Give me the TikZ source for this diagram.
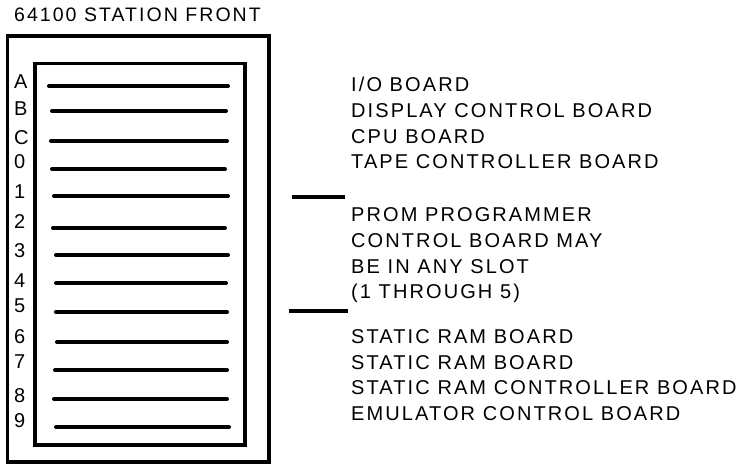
\documentclass[tikz,border=0pt]{standalone}
\usepackage{fontspec}
\setmainfont{Liberation Sans}[LetterSpace=10.5]
\begin{document}
\begin{tikzpicture}[x=1pt,y=-1pt,
  boxline/.style={line width=3.6pt},
  slotline/.style={line width=4pt,line cap=round},
  tick/.style={line width=3.6pt},
  slotlabel/.style={anchor=base west,inner sep=0pt,font=\fontsize{20}{20}\selectfont},
  desc/.style={anchor=base west,inner sep=0pt,font=\fontsize{20}{20}\selectfont},
  titletext/.style={anchor=base west,inner sep=0pt,font=\fontsize{19.5}{19.5}\selectfont}]
\useasboundingbox (0,0) rectangle (739,472);
\node[titletext] (title) at (14,21) {64100 STATION FRONT};
\draw[boxline] (7.5,36) rectangle (269,462);
\draw[boxline] (35,63.5) rectangle (245,445);
% slot lines
\foreach \ya/\xa/\xb in {86/49/228,111/52/226,141/51/227,169/52/225,196/54/228,228/53/225,255/56/228,283/56/226,312/56/227,342/57/227,370/55/227,399/54/227,427/56/229}
  \draw[slotline] (\xa,\ya) -- (\xb,\ya);
% slot labels
\node[slotlabel] (lA) at (14,88) {A};
\node[slotlabel] (lB) at (14,115) {B};
\node[slotlabel] (lC) at (14,144) {C};
\node[slotlabel] (l0) at (14,168) {0};
\node[slotlabel] (l1) at (14,198) {1};
\node[slotlabel] (l2) at (14,228) {2};
\node[slotlabel] (l3) at (14,257) {3};
\node[slotlabel] (l4) at (14,287) {4};
\node[slotlabel] (l5) at (14,312) {5};
\node[slotlabel] (l6) at (14,343) {6};
\node[slotlabel] (l7) at (14,368) {7};
\node[slotlabel] (l8) at (14,402) {8};
\node[slotlabel] (l9) at (14,427) {9};
% descriptions
\node[desc] (d1) at (351,91) {I/O BOARD};
\node[desc] (d2) at (351,117) {DISPLAY CONTROL BOARD};
\node[desc] (d3) at (351,143) {CPU BOARD};
\node[desc] (d4) at (351,168) {TAPE CONTROLLER BOARD};
\node[desc] (d5) at (351,221) {PROM PROGRAMMER};
\node[desc] (d6) at (351,247) {CONTROL BOARD MAY};
\node[desc] (d7) at (351,273) {BE IN ANY SLOT};
\node[desc] (d8) at (351,298) {(1 THROUGH 5)};
\node[desc] (d9) at (351,343) {STATIC RAM BOARD};
\node[desc] (d10) at (351,369) {STATIC RAM BOARD};
\node[desc] (d11) at (351,394) {STATIC RAM CONTROLLER BOARD};
\node[desc] (d12) at (351,420) {EMULATOR CONTROL BOARD};
% bracket ticks
\coordinate (t1a) at (292,197); \coordinate (t1b) at (345,197);
\coordinate (t2a) at (289,311); \coordinate (t2b) at (348,311);
\draw[tick] (t1a) -- (t1b);
\draw[tick] (t2a) -- (t2b);
\end{tikzpicture}
\end{document}
